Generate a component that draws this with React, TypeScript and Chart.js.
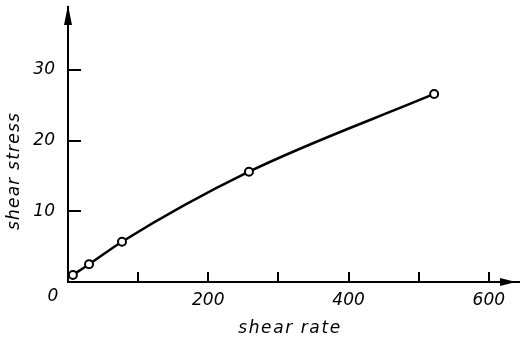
import React, { useEffect, useRef } from "react";
import { Chart, registerables } from "chart.js";

Chart.register(...registerables);

const shearRate = [7, 30, 77, 258, 522];
const shearStress = [1.0, 2.5, 5.7, 15.6, 26.6];
const xTickValues = [0, 100, 200, 300, 400, 500, 600];
const xTickLabels = ["200", "400", "600"];
const yTickValues = [0, 10, 20, 30];
const xTitle = "shear rate";
const yTitle = "shear stress";
const originLabel = "0";

const FONT = "italic 17px 'DejaVu Sans'";

const decorPlugin = {
  id: "decor",
  afterDraw(chart: any) {
    const { ctx, chartArea } = chart;
    const xs = chart.scales.x;
    const ys = chart.scales.y;
    const x0 = xs.getPixelForValue(0);
    const y0 = ys.getPixelForValue(0);
    ctx.save();
    ctx.strokeStyle = "#000";
    ctx.fillStyle = "#000";
    // inner tick marks
    ctx.lineWidth = 2;
    xTickValues.filter((v) => v > 0).forEach((v) => {
      const px = Math.round(xs.getPixelForValue(v));
      ctx.beginPath();
      ctx.moveTo(px, y0);
      ctx.lineTo(px, y0 - 10);
      ctx.stroke();
    });
    yTickValues.filter((v) => v > 0).forEach((v) => {
      const py = Math.round(ys.getPixelForValue(v));
      ctx.beginPath();
      ctx.moveTo(x0, py);
      ctx.lineTo(x0 + 13, py);
      ctx.stroke();
    });
    // arrowheads
    const top = chartArea.top;
    ctx.beginPath();
    ctx.moveTo(x0, top - 2);
    ctx.lineTo(x0 - 4, top + 18);
    ctx.lineTo(x0 + 4, top + 18);
    ctx.closePath();
    ctx.fill();
    const right = chartArea.right - 3;
    ctx.beginPath();
    ctx.moveTo(right, y0);
    ctx.lineTo(right - 16, y0 - 4);
    ctx.lineTo(right - 16, y0 + 4);
    ctx.closePath();
    ctx.fill();
    // texts
    ctx.font = FONT;
    ctx.textAlign = "center";
    ctx.textBaseline = "middle";
    ctx.fillText(originLabel, x0 - 15, y0 + 15);
    (ctx as any).letterSpacing = "1.6px";
    ctx.fillText(xTitle, 290, 329);
    ctx.translate(15, 171);
    ctx.rotate(-Math.PI / 2);
    (ctx as any).letterSpacing = "1.2px";
    ctx.fillText(yTitle, 0, 0);
    ctx.restore();
  },
};

export default function App() {
  const ref = useRef<HTMLCanvasElement>(null);
  useEffect(() => {
    if (!ref.current) return;
    const chart = new Chart(ref.current, {
      type: "line",
      data: {
        datasets: [
          {
            data: shearRate.map((x, i) => ({ x, y: shearStress[i] })),
            borderColor: "#000",
            borderWidth: 2.5,
            pointRadius: 4,
            pointBorderWidth: 2,
            pointBackgroundColor: "#fff",
            pointBorderColor: "#000",
            cubicInterpolationMode: "monotone",
          },
        ],
      },
      options: {
        animation: false,
        responsive: false,
        layout: { padding: { top: 7, right: 0, left: 0, bottom: 0 } },
        plugins: { legend: { display: false }, tooltip: { enabled: false } },
        scales: {
          x: {
            type: "linear",
            min: 0,
            max: 643,
            afterBuildTicks: (s: any) => {
              s.ticks = xTickValues.map((v) => ({ value: v }));
            },
            afterFit: (s: any) => {
              s.height = 60;
              s.paddingLeft = 0;
              s.paddingRight = 0;
            },
            grid: { display: false, drawTicks: false },
            border: { display: true, color: "#000", width: 2 },
            ticks: {
              padding: 8,
              color: "#000",
              font: { family: "DejaVu Sans", size: 17, style: "italic" },
              callback: (v: any) => (xTickLabels.includes(String(v)) ? String(v) : ""),
              maxRotation: 0,
              autoSkip: false,
            },
          },
          y: {
            type: "linear",
            min: 0,
            max: 38.9,
            afterBuildTicks: (s: any) => {
              s.ticks = yTickValues.map((v) => ({ value: v }));
            },
            afterFit: (s: any) => {
              s.width = 68;
              s.paddingTop = 0;
              s.paddingBottom = 0;
            },
            grid: { display: false, drawTicks: false },
            border: { display: true, color: "#000", width: 2 },
            ticks: {
              padding: 13,
              color: "#000",
              font: { family: "DejaVu Sans", size: 17, style: "italic" },
              callback: (v: any) => (Number(v) > 0 ? String(v) : ""),
              autoSkip: false,
            },
          },
        },
      },
      plugins: [decorPlugin],
    });
    return () => chart.destroy();
  }, []);
  return (
    <div style={{ position: "absolute", left: 0, top: 0, width: 525, height: 342 }}>
      <canvas ref={ref} width={525} height={342} style={{ display: "block" }} />
    </div>
  );
}
